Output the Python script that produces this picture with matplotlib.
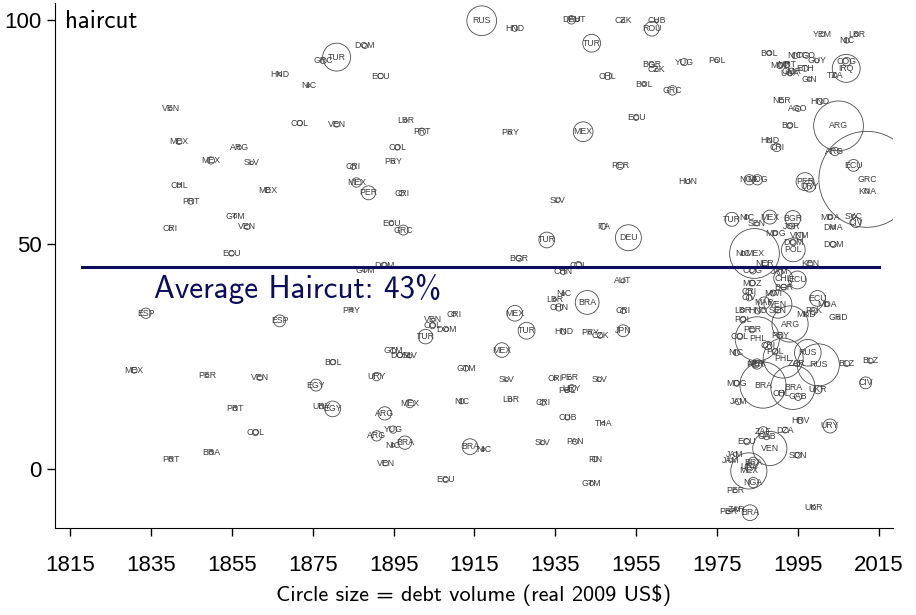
import numpy as np
import matplotlib.pyplot as plt

# restructuring episodes: country code, year, haircut (%), debt volume (bn real 2009 US$)
country = [
    "VEN", "MEX", "ARG", "MEX", "SLV", "CHL", "PRT", "MEX", "GTM", "VEN",
    "CRI", "ECU", "HND", "COL", "NIC", "TUR", "GRC", "DOM", "ECU", "VEN",
    "LBR", "PRT", "COL", "PRY", "CRI", "MEX", "PER", "CRI", "ECU", "GRC",
    "RUS", "HND", "PRY", "DOM", "GTM", "BGR", "ESP", "ESP", "MEX", "PER",
    "VEN", "PRT", "COL", "BRA", "PRT", "PRY", "VEN", "CRI", "COL", "DOM",
    "TUR", "GTM", "DOM", "SLV", "BOL", "URY", "EGY", "URY", "EGY", "MEX",
    "ARG", "YUG", "ARG", "NIC", "BRA", "VEN", "GTM", "MEX", "NIC", "BRA",
    "NIC", "ECU", "MEX", "TUR", "SLV", "LBR", "DEU", "AUT", "CZK", "CUB",
    "ROU", "TUR", "BGR", "CZK", "YUG", "POL", "CHL", "BOL", "GRC", "ECU",
    "MEX", "PER", "HUN", "SLV", "ITA", "DEU", "TUR", "COL", "CHN", "AUT",
    "NIC", "LBR", "CHN", "BRA", "CRI", "HND", "PRY", "CZK", "JPN", "CRI",
    "PER", "POL", "URY", "SLV", "CRI", "CUB", "THA", "SLV", "PAN", "FIN",
    "GTM",
    # 1975 onwards
    "BOL", "NIC", "TGO", "MOZ", "MRT", "GUY", "ETH", "CMR", "UGA", "GIN",
    "YEM", "LBR", "NIC", "IRQ", "COG", "TZA", "NER", "AGO", "HND", "ARG",
    "BOL", "HND", "CRI", "ARG", "GRC", "ECU", "KNA", "NGA", "MDG", "PER",
    "URY", "TUR", "NIC", "MEX", "BGR", "SEN", "JOR", "MDA", "SYC", "CIV",
    "DMA", "MDG", "VNM", "DOM", "MEX", "NIC", "POL", "DOM", "KEN", "NER",
    "ECU", "ECU", "MDA", "MKD", "PAK", "GRD", "ARG", "PRY", "VEN", "SEN",
    "COL", "JAM", "CHL", "CRI", "MWI", "BGR", "CIV", "MAR", "LBR", "HND",
    "POL", "PER", "COG", "MOZ", "NIC", "RUS", "RUS", "BLZ", "BLZ", "CIV",
    "UKR", "GAB", "BRA", "CHL", "MDG", "JAM", "HRV", "URY", "ZAF", "DZA",
    "GAB", "ECU", "VEN", "SDN", "JAM", "JAM", "BRA", "URY", "MEX", "NGA",
    "PER", "UKR", "PER", "ZAR", "BRA", "PHL", "POL", "MEX", "ZAR", "PHL",
    "BRA", "PER", "CRI",
]
year = [
    1839.8, 1841.9, 1856.8, 1849.8, 1859.9, 1841.9, 1844.8, 1863.8, 1855.8, 1858.8,
    1839.8, 1854.9, 1866.9, 1871.8, 1873.9, 1880.9, 1877.6, 1887.9, 1891.8, 1880.9,
    1898.0, 1902.0, 1895.9, 1894.9, 1885.0, 1885.8, 1888.8, 1897.0, 1894.5, 1897.4,
    1916.8, 1925.0, 1923.8, 1892.8, 1887.9, 1926.1, 1833.7, 1866.8, 1830.8, 1848.9,
    1861.9, 1855.8, 1860.8, 1849.9, 1839.9, 1884.6, 1904.8, 1909.9, 1904.6, 1908.1,
    1902.9, 1894.9, 1896.6, 1899.0, 1879.9, 1890.8, 1875.8, 1877.2, 1879.9, 1899.0,
    1892.8, 1894.9, 1890.8, 1894.9, 1897.8, 1893.0, 1912.9, 1921.8, 1911.8, 1913.9,
    1917.2, 1907.9, 1925.0, 1927.9, 1923.0, 1923.9, 1939.0, 1940.5, 1951.8, 1960.1,
    1958.9, 1944.0, 1958.9, 1960.1, 1966.9, 1974.9, 1948.0, 1957.0, 1964.0, 1955.0,
    1941.9, 1951.0, 1967.9, 1935.7, 1946.9, 1953.1, 1932.9, 1940.7, 1937.0, 1951.8,
    1937.0, 1934.9, 1935.9, 1942.9, 1951.8, 1937.0, 1943.6, 1946.1, 1951.8, 1934.9,
    1938.6, 1937.8, 1939.1, 1945.9, 1931.9, 1938.0, 1946.9, 1931.9, 1939.9, 1944.8,
    1944.0,
    1987.9, 1994.3, 1997.1, 1990.6, 1992.3, 1999.7, 1996.8, 1993.5, 1993.1, 1997.9,
    2001.2, 2009.6, 2007.1, 2007.0, 2007.1, 2004.2, 1991.0, 1995.1, 2000.5, 2005.1,
    1993.0, 1988.1, 1989.8, 2004.2, 2012.1, 2008.8, 2012.1, 1983.0, 1985.0, 1996.8,
    1997.9, 1978.7, 1982.4, 1988.1, 1993.8, 1984.9, 1993.5, 2003.0, 2008.8, 2009.4,
    2003.8, 1989.4, 1995.6, 2003.8, 1984.3, 1981.5, 1993.9, 1993.9, 1998.0, 1986.9,
    1994.9, 1999.9, 2002.2, 1997.1, 1998.9, 2005.1, 1993.1, 1990.6, 1990.1, 1990.1,
    1980.7, 1990.6, 1991.4, 1982.9, 1988.9, 1991.6, 1983.0, 1986.7, 1981.4, 1985.1,
    1981.4, 1983.7, 1983.9, 1983.7, 1979.8, 1997.5, 2000.1, 2007.1, 2013.0, 2011.8,
    2000.0, 1995.1, 1993.8, 1991.0, 1979.9, 1980.3, 1995.6, 2003.0, 1986.5, 1991.9,
    1987.3, 1982.4, 1988.1, 1995.1, 1979.5, 1978.3, 1984.0, 1983.0, 1982.9, 1984.0,
    1979.5, 1998.9, 1977.8, 1979.9, 1983.2, 1985.0, 1989.4, 1984.9, 1994.8, 1991.4,
    1986.4, 1984.6, 1987.6,
]
haircut = [
    80.3, 72.9, 71.6, 68.7, 68.2, 63.2, 59.6, 62.1, 56.3, 53.9,
    53.5, 48.0, 87.9, 77.0, 85.4, 91.7, 90.9, 94.2, 87.5, 76.7,
    77.6, 75.1, 71.6, 68.4, 67.3, 63.8, 61.5, 61.4, 54.7, 53.2,
    99.8, 98.1, 74.9, 45.4, 44.3, 46.9, 34.7, 33.0, 22.0, 20.9,
    20.3, 13.5, 8.1, 3.7, 2.2, 35.4, 33.3, 34.5, 31.9, 31.1,
    29.5, 26.3, 25.4, 25.2, 23.8, 20.6, 18.7, 13.9, 13.4, 14.6,
    12.4, 8.8, 7.4, 5.3, 5.9, 1.3, 22.4, 26.5, 15.1, 5.0,
    4.4, -2.4, 34.7, 30.8, 20.0, 15.4, 100.0, 100.0, 99.8, 99.8,
    98.0, 94.8, 90.0, 88.9, 90.6, 90.9, 87.5, 85.7, 84.3, 78.2,
    75.1, 67.5, 64.0, 59.9, 54.0, 51.5, 51.0, 45.4, 43.9, 41.9,
    39.0, 37.8, 36.0, 37.1, 35.2, 30.6, 30.4, 29.7, 30.8, 20.2,
    20.3, 17.4, 18.0, 20.0, 14.8, 11.5, 10.2, 5.9, 6.1, 2.2,
    -3.2,
    92.6, 92.0, 92.1, 89.8, 90.1, 90.9, 89.2, 88.6, 88.0, 86.8,
    96.8, 96.8, 95.4, 89.2, 90.7, 87.7, 82.0, 80.2, 81.8, 76.4,
    76.4, 73.1, 71.6, 70.7, 64.5, 67.6, 61.9, 64.4, 64.4, 64.0,
    63.0, 55.6, 56.1, 56.1, 55.8, 54.6, 54.1, 56.1, 56.2, 54.9,
    53.8, 52.5, 51.9, 50.0, 48.0, 48.0, 48.8, 50.4, 45.7, 45.8,
    42.1, 38.0, 36.7, 34.5, 35.2, 33.7, 32.3, 29.8, 36.7, 35.4,
    29.5, 43.9, 42.5, 39.5, 39.2, 40.5, 38.1, 37.0, 35.4, 35.2,
    33.2, 31.0, 44.1, 41.4, 25.9, 25.9, 23.2, 23.5, 24.1, 19.2,
    17.7, 16.1, 18.2, 16.9, 19.1, 15.0, 10.8, 9.6, 8.3, 8.7,
    7.2, 6.1, 4.6, 3.1, 3.3, 2.0, 1.5, 0.5, -0.4, -3.0,
    -4.8, -8.5, -9.5, -8.9, -9.7, 29.0, 26.1, 23.4, 23.5, 24.7,
    18.7, 23.2, 27.5,
]
debt = [
    0.3, 1.0, 0.5, 1.5, 0.3, 0.5, 1.0, 0.8, 0.3, 0.8,
    0.3, 0.8, 0.3, 0.8, 0.3, 22, 1.0, 0.8, 0.8, 0.8,
    0.3, 1.5, 0.8, 0.3, 0.8, 2.5, 5.5, 0.8, 0.5, 2.8,
    25, 1.0, 0.3, 0.8, 0.5, 1.0, 3.0, 4.0, 1.0, 0.3,
    0.8, 0.5, 1.0, 0.5, 0.5, 0.3, 0.3, 0.5, 1.0, 0.5,
    6.0, 0.8, 0.8, 0.5, 0.8, 2.0, 4.0, 0.5, 7.0, 2.0,
    5.0, 1.5, 3.0, 0.3, 5.0, 0.8, 0.8, 6.0, 0.8, 7.0,
    0.3, 0.8, 7.0, 8.0, 0.3, 0.3, 2.0, 0.3, 0.3, 0.3,
    6.0, 9.0, 0.8, 0.3, 1.5, 0.3, 1.5, 0.3, 2.5, 0.8,
    11, 1.5, 0.5, 0.5, 1.0, 19, 7.0, 1.5, 0.8, 0.5,
    0.3, 0.3, 1.5, 16, 0.8, 0.8, 0.3, 0.8, 4.0, 0.3,
    0.3, 0.3, 1.5, 0.5, 0.8, 0.8, 0.3, 0.5, 0.8, 0.8,
    0.5,
    0.5, 1.0, 1.0, 1.0, 1.0, 0.5, 1.0, 1.0, 0.5, 0.5,
    0.5, 0.5, 0.8, 22, 2.0, 0.5, 0.5, 0.8, 1.0, 70,
    0.8, 0.5, 2.0, 2.0, 260, 4.0, 0.5, 3.0, 3.0, 9.0,
    4.0, 5.5, 0.5, 5.5, 7.0, 0.5, 1.0, 0.5, 0.5, 3.0,
    0.3, 0.5, 1.5, 1.0, 70, 0.5, 16, 1.0, 1.0, 1.0,
    9.0, 7.0, 0.5, 0.5, 1.5, 0.3, 37, 1.0, 22, 1.0,
    1.0, 1.0, 10, 1.0, 1.0, 1.0, 1.0, 4.0, 0.5, 1.0,
    1.0, 1.0, 1.0, 1.0, 1.0, 20, 50, 1.0, 0.8, 4.0,
    2.0, 1.5, 55, 1.0, 1.0, 1.0, 1.0, 5.5, 3.0, 1.0,
    1.0, 1.0, 33, 1.0, 0.5, 0.5, 3.0, 2.0, 37, 3.0,
    0.5, 0.5, 0.5, 0.5, 7.0, 55, 1.0, 3.0, 1.0, 45,
    60, 1.0, 2.0,
]

avg_haircut = 43
avg_line_level = 45
avg_line_span = (1818, 2015)
xticks = np.arange(1815, 2016, 20)
yticks = [0, 50, 100]

tick_font = ["Liberation Sans", "DejaVu Sans"]
navy = "#0c0c5c"

fig = plt.figure(figsize=(9.16, 6.15), dpi=100)
ax = fig.add_axes([0.060, 0.1415, 0.915, 0.854])

# bubble area proportional to debt volume
sizes = 18.35 * np.array(debt)
ax.scatter(year, haircut, s=sizes, facecolors="none", edgecolors="#4a4a4a",
           linewidths=0.6, zorder=2)
for c, x, y in zip(country, year, haircut):
    ax.text(x, y, c, ha="center", va="center", fontsize=6.3, color="#3c3c3c",
            family=["Liberation Sans", "DejaVu Sans"], zorder=3)

ax.plot(avg_line_span, [avg_line_level, avg_line_level], color=navy, lw=2.2, zorder=4)
ax.text(1835.7, 40.0, "Average Haircut: %d%%" % avg_haircut, color=navy,
        fontsize=22.5, family="cmss10", ha="left", va="center", zorder=4)

ax.text(0.012, 0.964, "haircut", transform=ax.transAxes, fontsize=18,
        family="cmss10", ha="left", va="center")

ax.set_xlim(1811.2, 2018.6)
ax.set_ylim(-13.1, 103.8)
ax.set_xticks(xticks)
ax.set_yticks(yticks)
ax.set_xticklabels([str(t) for t in xticks], family=tick_font, fontsize=16)
ax.set_yticklabels([str(t) for t in yticks], family=tick_font, fontsize=16)
ax.tick_params(direction="out", length=5.5, width=1, color="black", pad=4)
ax.tick_params(axis="x", pad=14)
ax.spines["top"].set_visible(False)
ax.spines["right"].set_visible(False)
ax.set_xlabel("Circle size = debt volume (real 2009 US$)", family="cmss10",
              fontsize=16, labelpad=6)

fig.savefig("out.png", dpi=100)
